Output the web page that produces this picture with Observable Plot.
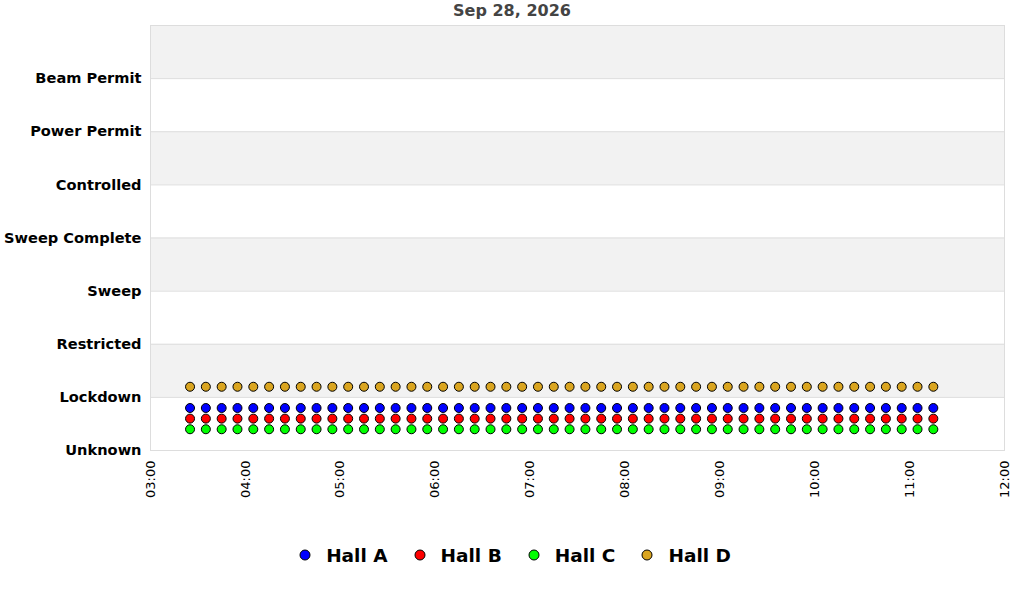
<!DOCTYPE html>
<html>
<head>
<meta charset="utf-8">
<script src="https://cdn.jsdelivr.net/npm/d3@7"></script>
<script src="https://cdn.jsdelivr.net/npm/@observablehq/plot@0.6"></script>
<style>
  html, body { margin: 0; padding: 0; background: white; font-family: "DejaVu Sans", sans-serif; }
  #title { width: 1024px; height: 20px; line-height: 22px; text-align: center; font-weight: bold; font-size: 16px; color: #444; }
  #legend { width: 1018px; padding-left: 6px; display: flex; justify-content: center; align-items: center; margin-top: 34px; height: 22px; font-weight: bold; font-size: 18.5px; color: #000; }
  .item { display: flex; align-items: center; margin: 0 13px; }
  .item svg { margin-right: 15px; }
</style>
</head>
<body>
<div id="title">Sep 28, 2026</div>
<div id="chart"></div>
<div id="legend"></div>
<script>
const day = "2026-09-28";
const stateLabels = ["Unknown", "Lockdown", "Restricted", "Sweep", "Sweep Complete", "Controlled", "Power Permit", "Beam Permit"];
const xTickStart = "03:00";
const xTickEnd = "12:00";

const times = [
  "03:25","03:35","03:45","03:55",
  "04:05","04:15","04:25","04:35","04:45","04:55",
  "05:05","05:15","05:25","05:35","05:45","05:55",
  "06:05","06:15","06:25","06:35","06:45","06:55",
  "07:05","07:15","07:25","07:35","07:45","07:55",
  "08:05","08:15","08:25","08:35","08:45","08:55",
  "09:05","09:15","09:25","09:35","09:45","09:55",
  "10:05","10:15","10:25","10:35","10:45","10:55",
  "11:05","11:15"
];

const halls = ["Hall A", "Hall B", "Hall C", "Hall D"];
// state index per time (1 = Lockdown)
const hallA = [1,1,1,1,1,1,1,1,1,1,1,1,1,1,1,1,1,1,1,1,1,1,1,1,1,1,1,1,1,1,1,1,1,1,1,1,1,1,1,1,1,1,1,1,1,1,1,1];
const hallB = [1,1,1,1,1,1,1,1,1,1,1,1,1,1,1,1,1,1,1,1,1,1,1,1,1,1,1,1,1,1,1,1,1,1,1,1,1,1,1,1,1,1,1,1,1,1,1,1];
const hallC = [1,1,1,1,1,1,1,1,1,1,1,1,1,1,1,1,1,1,1,1,1,1,1,1,1,1,1,1,1,1,1,1,1,1,1,1,1,1,1,1,1,1,1,1,1,1,1,1];
const hallD = [1,1,1,1,1,1,1,1,1,1,1,1,1,1,1,1,1,1,1,1,1,1,1,1,1,1,1,1,1,1,1,1,1,1,1,1,1,1,1,1,1,1,1,1,1,1,1,1];

// styling
const hallColors = ["#0000ff", "#ff0000", "#00ff00", "#daa520"];
const hallOffsets = [-0.2, -0.4, -0.6, 0.2];

const parse = t => new Date(`${day}T${t}:00Z`);
const series = [hallA, hallB, hallC, hallD];
const points = [];
series.forEach((vals, h) => vals.forEach((v, i) => points.push({hall: halls[h], h, time: parse(times[i]), state: v})));

const x0 = parse(xTickStart), x1 = parse(xTickEnd);
const nBands = stateLabels.length;
const bands = d3.range(nBands).filter(i => i % 2 === 1).map(i => ({y1: i, y2: i + 1}));

const chart = Plot.plot({
  width: 1024,
  height: 490,
  marginLeft: 150,
  marginRight: 20,
  marginTop: 5,
  marginBottom: 60,
  style: {fontFamily: "DejaVu Sans", background: "white", color: "black"},
  x: {type: "utc", domain: [x0, x1]},
  y: {domain: [0, nBands]},
  marks: [
    Plot.rect(bands, {x1: () => x0, x2: () => x1, y1: "y1", y2: "y2", fill: "#f2f2f2"}),
    Plot.ruleY(d3.range(nBands + 1), {stroke: "#dddddd"}),
    Plot.frame({stroke: "#dddddd"}),
    Plot.axisX({ticks: d3.utcHour.every(1), tickFormat: d3.utcFormat("%H:%M"), tickRotate: -90, tickSize: 0, tickPadding: 10, fontSize: 13, label: null}),
    Plot.axisY({ticks: d3.range(stateLabels.length), tickFormat: i => stateLabels[i], tickSize: 0, tickPadding: 9, fontSize: 14.6, fontWeight: "bold", label: null}),
    ...halls.map((name, h) => Plot.dot(points.filter(p => p.h === h), {
      x: "time", y: p => p.state + hallOffsets[h], r: 4.5, fill: hallColors[h], stroke: "black", strokeWidth: 1
    }))
  ]
});
document.getElementById("chart").appendChild(chart);

const legend = document.getElementById("legend");
halls.forEach((name, h) => {
  const item = document.createElement("div");
  item.className = "item";
  item.innerHTML = `<svg width="12" height="12"><circle cx="6" cy="6" r="5" fill="${hallColors[h]}" stroke="black" stroke-width="1"/></svg><span>${name}</span>`;
  legend.appendChild(item);
});
</script>
</body>
</html>
